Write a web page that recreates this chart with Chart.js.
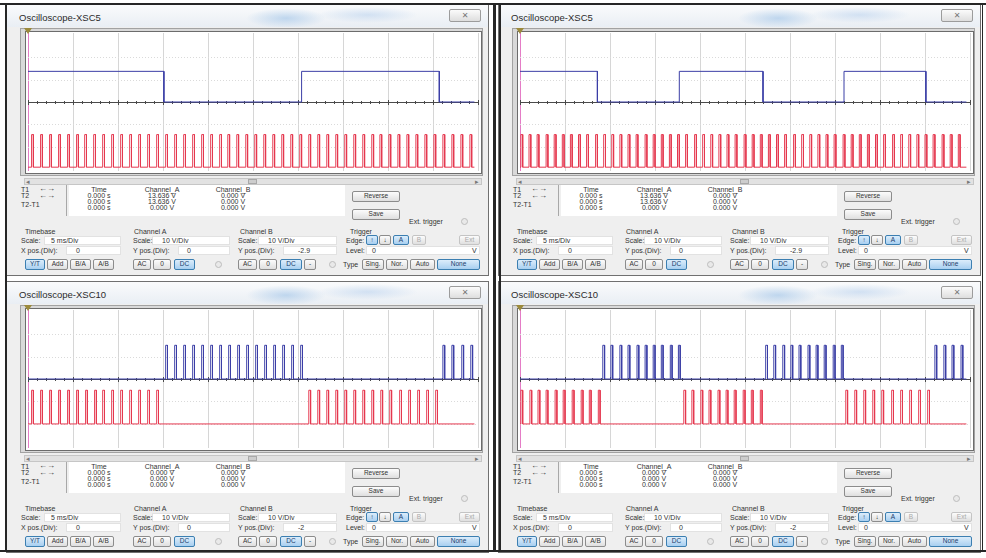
<!DOCTYPE html>
<html>
<head>
<meta charset="utf-8">
<title>Oscilloscope XSC5 / XSC10</title>
<script src="https://cdn.jsdelivr.net/npm/chart.js@4.4.1/dist/chart.umd.min.js"></script>
<style>
  html, body { margin: 0; padding: 0; background: #ffffff; }
  body { width: 986px; height: 558px; position: relative; overflow: hidden;
         font-family: "Liberation Sans", Arial, "DejaVu Sans", sans-serif; color: #333; }
  .panel { position: absolute; width: 493px; height: 279px; }
  .abs { position: absolute; box-sizing: border-box; }
  .win { border: 1px solid #707070; background: #efefef; }
  .titlebar { background:
      radial-gradient(ellipse 40px 10px at 58% 60%, rgba(150,190,230,0.55), rgba(150,190,230,0) 100%),
      radial-gradient(ellipse 50px 8px at 75% 45%, rgba(170,200,235,0.45), rgba(170,200,235,0) 100%),
      linear-gradient(#fafbfc, #e9eef4); }
  .title { font-size: 9.5px; line-height: 11px; color: #2b2b2b; white-space: nowrap; }
  .close { border: 1px solid #9c9c9c; border-radius: 2px; background: linear-gradient(#fbfbfb, #dedede);
           font-size: 8px; line-height: 11px; text-align: center; color: #777; }
  .frame { background: #d9d9d9; border: 1px solid #a2a2a2; }
  .screen { background: #ffffff; border: 1px solid #6c6c6c; }
  .t { position: absolute; font-size: 7px; line-height: 7px; white-space: nowrap; color: #333; }
  .c { text-align: center; }
  .btn { position: absolute; box-sizing: border-box; height: 10px; font-size: 6.5px; line-height: 8px;
         text-align: center; border: 1px solid #8c8c8c; border-radius: 2px;
         background: linear-gradient(#fcfcfc, #dfdfdf); color: #333; white-space: nowrap; }
  .btn.on { background: linear-gradient(#dcedfb, #a8cff0); border-color: #3c7fb1; color: #1b3d6b; }
  .btn.off { color: #aaa; border-color: #c4c4c4; }
  .field { position: absolute; box-sizing: border-box; height: 9px; background: #ffffff; border: 1px solid #e2e2e2; }
  .dot { position: absolute; box-sizing: border-box; width: 7px; height: 7px; border-radius: 50%;
         border: 1px solid #bdbdbd; background: #e9e9e9; }
  .marker { width: 0; height: 0; border-left: 4px solid transparent; border-right: 4px solid transparent;
            border-top: 6px solid #9b8a3c; }
  .bar { position: absolute; background: #262626; }
</style>
</head>
<body>
<script>
// ---- Time axis: 5 ms/Div, 10 divisions ----
const timeDivs = [0, 5, 10, 15, 20, 25, 30, 35, 40, 45, 50];   // ms
const voltsPerDiv = 10;                                        // V/Div on both channels
const pulseWidthMs = 0.2;                                      // width of each clock pulse
const traceEndMs = 49.6;                                       // end of the recorded traces

// ---- XSC5, first run: channel A square wave, channel B clock ----
const xsc5aLevel = 13.636;
const xsc5aHighSpans = [[0, 15.1], [30.4, 45.7]];
const xsc5aClockLevel = 14.5;
const xsc5aClock = [0.4, 1.4, 2.4, 3.4, 4.4, 5.4, 6.3, 7.3, 8.3, 9.3, 10.3, 11.3, 12.3, 13.3, 14.3,
  15.3, 16.3, 17.3, 18.3, 19.3, 20.3, 21.3, 22.2, 23.2, 24.2, 25.2, 26.2, 27.2, 28.2, 29.2, 30.2,
  31.2, 32.2, 33.2, 34.2, 35.2, 36.2, 37.2, 38.2, 39.1, 40.1, 41.1, 42.1, 43.1, 44.1, 45.1, 46.1,
  47.1, 48.1, 49.1];

// ---- XSC5, second run ----
const xsc5bLevel = 13.636;
const xsc5bHighSpans = [[0, 8.6], [17.7, 27.0], [36.0, 45.1]];
const xsc5bClockLevel = 14.5;
const xsc5bClock = [0.1, 1.0, 1.9, 2.9, 3.8, 4.7, 5.6, 6.5, 7.4, 8.4, 9.3, 10.2, 11.1, 12.0, 12.9,
  13.9, 14.8, 15.7, 16.6, 17.5, 18.4, 19.4, 20.3, 21.2, 22.1, 23.0, 23.9, 24.9, 25.8, 26.7, 27.6,
  28.5, 29.4, 30.4, 31.3, 32.2, 33.1, 34.0, 34.9, 35.9, 36.8, 37.7, 38.6, 39.5, 40.4, 41.4, 42.3,
  43.2, 44.1, 45.0, 45.9, 46.9, 47.8, 48.7];

// ---- XSC10, first run: gated clock bursts on both channels ----
const xsc10aLevel = 15;
const xsc10aChA = [15.3, 16.3, 17.3, 18.3, 19.3, 20.3, 21.3, 22.3, 23.3, 24.3, 25.3, 26.3, 27.3,
  28.3, 29.3, 30.3, 46.1, 47.1, 48.2, 49.2];
const xsc10aChB = [0.4, 1.4, 2.4, 3.4, 4.4, 5.4, 6.4, 7.4, 8.3, 9.3, 10.3, 11.3, 12.3, 13.3, 14.3,
  31.2, 32.2, 33.2, 34.2, 35.2, 36.2, 37.2, 38.2, 39.2, 40.2, 41.3, 42.3, 43.3, 44.3, 45.3];

// ---- XSC10, second run ----
const xsc10bLevel = 15;
const xsc10bChA = [9.2, 10.1, 11.1, 12.0, 13.0, 13.9, 14.8, 15.7, 16.7, 17.6,
  27.3, 28.2, 29.2, 30.1, 31.0, 32.0, 32.9, 33.8, 34.8, 35.7, 46.1, 47.1, 48.0, 49.0];
const xsc10bChB = [0.1, 1.1, 2.0, 2.9, 3.9, 4.8, 5.8, 6.8, 7.7, 8.7,
  18.2, 19.1, 20.1, 21.0, 22.0, 22.9, 23.8, 24.8, 25.7, 26.7,
  36.2, 37.2, 38.2, 39.2, 40.2, 41.3, 42.3, 43.3, 44.3, 45.3];

// ---- Front-panel settings and cursor readouts ----
const titles = ['Oscilloscope-XSC5', 'Oscilloscope-XSC5', 'Oscilloscope-XSC10', 'Oscilloscope-XSC10'];
const chBYPos = [-2.9, -2.9, -2, -2];             // Channel B Y pos.(Div)
const chAYPos = [0, 0, 0, 0];                     // Channel A Y pos.(Div)
const readTime = ['0.000 s', '0.000 s', '0.000 s'];
const readA = [['13.636 V', '13.636 V', '0.000 V'], ['13.636 V', '13.636 V', '0.000 V'],
               ['0.000 V', '0.000 V', '0.000 V'], ['0.000 V', '0.000 V', '0.000 V']];
const readB = [['0.000 V', '0.000 V', '0.000 V'], ['0.000 V', '0.000 V', '0.000 V'],
               ['0.000 V', '0.000 V', '0.000 V'], ['0.000 V', '0.000 V', '0.000 V']];

const BLUE = '#3b3ea6';
const RED = '#e5384f';

// Step trace that is high during each [start, end] span
function spanTrace(spans, level, offset) {
  const pts = [];
  let first = true;
  for (const [a, b] of spans) {
    if (first && a > 0) pts.push({ x: 0, y: offset });
    if (a > 0) pts.push({ x: a, y: offset });
    pts.push({ x: a, y: offset + level }, { x: b, y: offset + level }, { x: b, y: offset });
    first = false;
  }
  pts.push({ x: traceEndMs, y: offset });
  return pts;
}

// Step trace made of short pulses starting at the given times
function pulseTrace(starts, level, offset) {
  const pts = [{ x: 0, y: offset }];
  for (const t of starts) {
    pts.push({ x: t, y: offset }, { x: t, y: offset + level },
             { x: t + pulseWidthMs, y: offset + level }, { x: t + pulseWidthMs, y: offset });
  }
  pts.push({ x: traceEndMs, y: offset });
  return pts;
}

const traces = [
  { a: spanTrace(xsc5aHighSpans, xsc5aLevel, chAYPos[0] * voltsPerDiv),
    b: pulseTrace(xsc5aClock, xsc5aClockLevel, chBYPos[0] * voltsPerDiv) },
  { a: spanTrace(xsc5bHighSpans, xsc5bLevel, chAYPos[1] * voltsPerDiv),
    b: pulseTrace(xsc5bClock, xsc5bClockLevel, chBYPos[1] * voltsPerDiv) },
  { a: pulseTrace(xsc10aChA, xsc10aLevel, chAYPos[2] * voltsPerDiv),
    b: pulseTrace(xsc10aChB, xsc10aLevel, chBYPos[2] * voltsPerDiv) },
  { a: pulseTrace(xsc10bChA, xsc10bLevel, chAYPos[3] * voltsPerDiv),
    b: pulseTrace(xsc10bChB, xsc10bLevel, chBYPos[3] * voltsPerDiv) }
];

// Screen graticule: dotted voltage divisions and the centre axis with minor ticks
const graticule = {
  id: 'graticule',
  beforeDatasetsDraw(chart) {
    const { ctx, chartArea: area, scales: { x, y } } = chart;
    ctx.save();
    ctx.lineWidth = 1;
    ctx.strokeStyle = '#dadada';
    ctx.setLineDash([1, 2]);
    for (const v of [-20, -10, 10, 20]) {
      const py = Math.round(y.getPixelForValue(v)) + 0.5;
      ctx.beginPath(); ctx.moveTo(area.left, py); ctx.lineTo(area.right, py); ctx.stroke();
    }
    ctx.setLineDash([]);
    const cy = Math.round(y.getPixelForValue(0)) + 0.5;
    ctx.strokeStyle = '#4a4a4a';
    ctx.beginPath(); ctx.moveTo(area.left, cy); ctx.lineTo(area.right, cy); ctx.stroke();
    const step = (timeDivs[1] - timeDivs[0]) / 5;
    for (let i = 0; i <= 50; i++) {
      const px = Math.round(x.getPixelForValue(i * step)) + 0.5;
      const h = i % 5 === 0 ? 2.5 : 1.5;
      ctx.beginPath(); ctx.moveTo(px, cy - h); ctx.lineTo(px, cy + h); ctx.stroke();
    }
    ctx.restore();
  }
};

function box(parent, cls, l, t, w, h, text) {
  const d = document.createElement('div');
  d.className = cls;
  d.style.left = l + 'px'; d.style.top = t + 'px';
  if (w != null) d.style.width = w + 'px';
  if (h != null) d.style.height = h + 'px';
  if (text != null) d.textContent = text;
  parent.appendChild(d);
  return d;
}
function txt(parent, l, t, s, extra) {
  return box(parent, 't' + (extra ? ' ' + extra : ''), l, t, null, null, s);
}
function ctxt(parent, cx, t, s) {
  return box(parent, 't c', cx - 30, t, 60, null, s);
}

const origins = [[0, 0], [492, 0], [0, 277], [492, 277]];

origins.forEach(([ox, oy], i) => {
  const p = document.createElement('div');
  p.className = 'panel';
  p.style.left = ox + 'px'; p.style.top = oy + 'px';
  document.body.appendChild(p);

  // window + title bar
  box(p, 'abs win', 6, 4, 483, 272);
  box(p, 'abs titlebar', 7, 5, 481, 22);
  box(p, 'abs title', 19, 12, null, null, titles[i]);
  box(p, 'abs close', 449, 9, 32, 13, '\u2715');

  // screen
  box(p, 'abs frame', 20, 28, 463, 148);
  box(p, 'abs screen', 25, 31, 457, 143);
  const cv = document.createElement('canvas');
  cv.width = 454; cv.height = 142;
  cv.style.position = 'absolute'; cv.style.left = '26px'; cv.style.top = '31px';
  cv.style.width = '454px'; cv.style.height = '142px';
  p.appendChild(cv);
  box(p, 'abs marker', 24, 28);

  new Chart(cv.getContext('2d'), {
    type: 'line',
    data: {
      datasets: [
        { label: 'Channel_B', data: traces[i].b, borderColor: RED, borderWidth: 1,
          pointRadius: 0, tension: 0, fill: false },
        { label: 'Channel_A', data: traces[i].a, borderColor: BLUE, borderWidth: 1,
          pointRadius: 0, tension: 0, fill: false }
      ]
    },
    options: {
      responsive: false, animation: false, events: [],
      layout: { padding: 2 },
      plugins: { legend: { display: false }, tooltip: { enabled: false } },
      scales: {
        x: { type: 'linear', min: timeDivs[0], max: timeDivs[timeDivs.length - 1],
             afterBuildTicks: s => { s.ticks = timeDivs.map(v => ({ value: v })); },
             ticks: { display: false },
             grid: { color: c => (c.tick && c.tick.value === 0 ? '#e47cc6' : '#d6d6d6'),
                     lineWidth: 1, drawTicks: false },
             border: { display: false } },
        y: { type: 'linear', min: -30.7, max: 30.7, display: false }
      }
    },
    plugins: [graticule]
  });

  // scroll bar
  box(p, 'abs', 24, 178, 458, 7).style.cssText += 'border:1px solid #c6c6c6;background:#e2e2e2;';
  txt(p, 26, 178, '\u25C2').style.color = '#777';
  txt(p, 475, 178, '\u25B8').style.color = '#777';
  box(p, 'abs', 248, 179, 9, 5).style.cssText += 'background:#cdcdcd;border:1px solid #a9a9a9;';

  // cursor readouts
  txt(p, 21, 186, 'T1'); txt(p, 21, 192, 'T2'); txt(p, 21, 201, 'T2-T1');
  const ar1 = txt(p, 39, 185, '\u2190\u2192'); ar1.style.fontSize = '8px'; ar1.style.fontWeight = 'bold';
  const ar2 = txt(p, 39, 192, '\u2190\u2192'); ar2.style.fontSize = '8px'; ar2.style.fontWeight = 'bold';
  box(p, 'abs', 66, 185, 1, 31).style.background = '#a8a8a8';
  box(p, 'abs', 69, 185, 276, 31).style.background = '#ffffff';
  ctxt(p, 99, 186, 'Time'); ctxt(p, 162, 186, 'Channel_A'); ctxt(p, 233, 186, 'Channel_B');
  for (let r = 0; r < 3; r++) {
    ctxt(p, 99, 192 + r * 6, readTime[r]);
    ctxt(p, 162, 192 + r * 6, readA[i][r]);
    ctxt(p, 233, 192 + r * 6, readB[i][r]);
  }

  box(p, 'btn', 352, 191, 48, 11, 'Reverse');
  box(p, 'btn', 352, 209, 48, 11, 'Save');
  txt(p, 409, 218, 'Ext. trigger');
  box(p, 'dot', 461, 218);

  // settings sections
  txt(p, 25, 228, 'Timebase'); txt(p, 134, 228, 'Channel A');
  txt(p, 240, 228, 'Channel B'); txt(p, 350, 228, 'Trigger');

  box(p, 'field', 44, 236, 77, 9); box(p, 'field', 152, 236, 78, 9); box(p, 'field', 258, 236, 79, 9);
  txt(p, 21, 237, 'Scale:'); txt(p, 51, 237, '5 ms/Div');
  txt(p, 133, 237, 'Scale:'); txt(p, 162, 237, '10  V/Div');
  txt(p, 238, 237, 'Scale:'); txt(p, 268, 237, '10  V/Div');
  txt(p, 346, 237, 'Edge:');
  box(p, 'btn on', 366, 235, 12, 10, '\u2191');
  box(p, 'btn', 379, 235, 12, 10, '\u2193');
  box(p, 'btn on', 393, 235, 16, 10, 'A');
  box(p, 'btn off', 412, 235, 14, 10, 'B');
  box(p, 'btn off', 459, 235, 21, 10, 'Ext');

  box(p, 'field', 66, 246, 55, 9); box(p, 'field', 178, 246, 52, 9);
  box(p, 'field', 283, 246, 54, 9); box(p, 'field', 366, 246, 114, 9);
  txt(p, 21, 247, 'X pos.(Div):'); txt(p, 76, 247, '0');
  txt(p, 133, 247, 'Y pos.(Div):'); txt(p, 187, 247, String(chAYPos[i]));
  txt(p, 238, 247, 'Y pos.(Div):'); txt(p, 298, 247, String(chBYPos[i]));
  txt(p, 346, 247, 'Level:'); txt(p, 372, 247, '0'); txt(p, 472, 247, 'V');

  box(p, 'btn on', 25, 259, 20, 11, 'Y/T');
  box(p, 'btn', 47, 259, 21, 11, 'Add');
  box(p, 'btn', 70, 259, 21, 11, 'B/A');
  box(p, 'btn', 93, 259, 21, 11, 'A/B');
  box(p, 'btn', 133, 259, 18, 11, 'AC');
  box(p, 'btn', 153, 259, 18, 11, '0');
  box(p, 'btn on', 174, 259, 21, 11, 'DC');
  box(p, 'dot', 215, 261);
  box(p, 'btn', 238, 259, 19, 11, 'AC');
  box(p, 'btn', 259, 259, 18, 11, '0');
  box(p, 'btn on', 280, 259, 22, 11, 'DC');
  box(p, 'btn', 304, 259, 12, 11, '-');
  box(p, 'dot', 329, 261);
  txt(p, 343, 261, 'Type');
  box(p, 'btn', 362, 259, 22, 11, 'Sing.');
  box(p, 'btn', 386, 259, 22, 11, 'Nor.');
  box(p, 'btn', 410, 259, 25, 11, 'Auto');
  box(p, 'btn on', 437, 259, 43, 11, 'None');
});

// dark frame lines of the screenshot collage
[[0, 3, 986, 2], [0, 550, 986, 2], [5, 3, 2, 549], [493, 3, 3, 549], [499, 3, 2, 549], [982, 3, 1, 549]]
  .forEach(([l, t, w, h]) => box(document.body, 'bar', l, t, w, h));
</script>
</body>
</html>
